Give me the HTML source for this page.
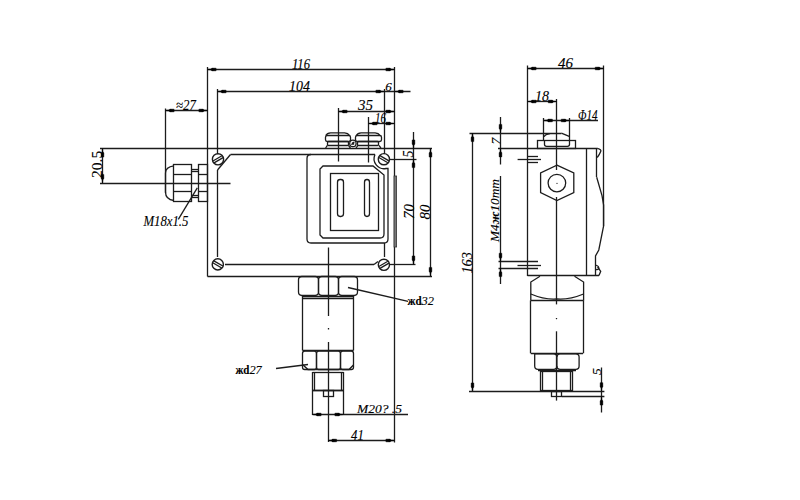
<!DOCTYPE html>
<html><head><meta charset="utf-8"><style>
html,body{margin:0;padding:0;background:#fff;}
svg{display:block;}
</style></head><body>
<svg width="800" height="500" viewBox="0 0 800 500">
<rect width="800" height="500" fill="#fff"/>
<line x1="207.5" y1="67" x2="207.5" y2="276.5" stroke="#1c1c1c" stroke-width="1.30"/>
<line x1="394.5" y1="67" x2="394.5" y2="442.5" stroke="#1c1c1c" stroke-width="1.30"/>
<line x1="100" y1="148.5" x2="432" y2="148.5" stroke="#1c1c1c" stroke-width="1.30"/>
<line x1="207.5" y1="276.5" x2="432" y2="276.5" stroke="#1c1c1c" stroke-width="1.30"/>
<line x1="207.5" y1="69.5" x2="394.5" y2="69.5" stroke="#1c1c1c" stroke-width="1.30"/>
<polygon points="207.50,69.50 211.11,68.95 211.80,68.10 216.10,68.17 216.10,70.83 211.80,70.90 211.11,70.05" fill="#000" stroke="#000" stroke-width="0.4"/>
<polygon points="394.50,69.50 390.89,70.05 390.20,70.90 385.90,70.83 385.90,68.17 390.20,68.10 390.89,68.95" fill="#000" stroke="#000" stroke-width="0.4"/>
<line x1="217.5" y1="89" x2="217.5" y2="154" stroke="#1c1c1c" stroke-width="1.30"/>
<line x1="384.5" y1="89" x2="384.5" y2="154" stroke="#1c1c1c" stroke-width="1.30"/>
<line x1="217.5" y1="91.5" x2="410.5" y2="91.5" stroke="#1c1c1c" stroke-width="1.30"/>
<polygon points="217.50,91.50 221.11,90.95 221.80,90.10 226.10,90.17 226.10,92.83 221.80,92.90 221.11,92.05" fill="#000" stroke="#000" stroke-width="0.4"/>
<polygon points="384.50,91.50 380.89,92.05 380.20,92.90 375.90,92.83 375.90,90.17 380.20,90.10 380.89,90.95" fill="#000" stroke="#000" stroke-width="0.4"/>
<polygon points="394.50,91.50 398.11,90.95 398.80,90.10 403.10,90.17 403.10,92.83 398.80,92.90 398.11,92.05" fill="#000" stroke="#000" stroke-width="0.4"/>
<line x1="338.5" y1="108" x2="338.5" y2="161.5" stroke="#1c1c1c" stroke-width="1.30"/>
<line x1="338.5" y1="111.5" x2="394.5" y2="111.5" stroke="#1c1c1c" stroke-width="1.30"/>
<polygon points="338.50,111.50 342.11,110.95 342.80,110.10 347.10,110.17 347.10,112.83 342.80,112.90 342.11,112.05" fill="#000" stroke="#000" stroke-width="0.4"/>
<polygon points="394.50,111.50 390.89,112.05 390.20,112.90 385.90,112.83 385.90,110.17 390.20,110.10 390.89,110.95" fill="#000" stroke="#000" stroke-width="0.4"/>
<line x1="368.5" y1="117" x2="368.5" y2="162.5" stroke="#1c1c1c" stroke-width="1.30"/>
<line x1="368.5" y1="123.5" x2="394.5" y2="123.5" stroke="#1c1c1c" stroke-width="1.30"/>
<polygon points="368.50,123.50 372.11,122.95 372.80,122.10 377.10,122.17 377.10,124.83 372.80,124.90 372.11,124.05" fill="#000" stroke="#000" stroke-width="0.4"/>
<polygon points="394.50,123.50 390.89,124.05 390.20,124.90 385.90,124.83 385.90,122.17 390.20,122.10 390.89,122.95" fill="#000" stroke="#000" stroke-width="0.4"/>
<line x1="165.5" y1="108.5" x2="165.5" y2="193" stroke="#1c1c1c" stroke-width="1.30"/>
<line x1="165.5" y1="110.5" x2="207.5" y2="110.5" stroke="#1c1c1c" stroke-width="1.30"/>
<polygon points="165.50,110.50 169.11,109.95 169.80,109.10 174.10,109.17 174.10,111.83 169.80,111.90 169.11,111.05" fill="#000" stroke="#000" stroke-width="0.4"/>
<polygon points="207.50,110.50 203.89,111.05 203.20,111.90 198.90,111.83 198.90,109.17 203.20,109.10 203.89,109.95" fill="#000" stroke="#000" stroke-width="0.4"/>
<line x1="102.5" y1="148.5" x2="102.5" y2="183" stroke="#1c1c1c" stroke-width="1.30"/>
<line x1="100" y1="183.5" x2="230.5" y2="183.5" stroke="#1c1c1c" stroke-width="1.30"/>
<polygon points="102.50,148.50 103.05,152.11 103.90,152.80 103.83,157.10 101.17,157.10 101.10,152.80 101.95,152.11" fill="#000" stroke="#000" stroke-width="0.4"/>
<polygon points="102.50,183.00 101.95,179.39 101.10,178.70 101.17,174.40 103.83,174.40 103.90,178.70 103.05,179.39" fill="#000" stroke="#000" stroke-width="0.4"/>
<line x1="413.5" y1="132" x2="413.5" y2="264.5" stroke="#1c1c1c" stroke-width="1.30"/>
<line x1="389" y1="159.5" x2="416.5" y2="159.5" stroke="#1c1c1c" stroke-width="1.30"/>
<line x1="389" y1="264.5" x2="415.5" y2="264.5" stroke="#1c1c1c" stroke-width="1.30"/>
<polygon points="413.50,148.50 412.95,144.89 412.10,144.20 412.17,139.90 414.83,139.90 414.90,144.20 414.05,144.89" fill="#000" stroke="#000" stroke-width="0.4"/>
<polygon points="413.50,159.00 414.05,162.61 414.90,163.30 414.83,167.60 412.17,167.60 412.10,163.30 412.95,162.61" fill="#000" stroke="#000" stroke-width="0.4"/>
<polygon points="413.50,264.50 412.95,260.89 412.10,260.20 412.17,255.90 414.83,255.90 414.90,260.20 414.05,260.89" fill="#000" stroke="#000" stroke-width="0.4"/>
<line x1="430.5" y1="148.5" x2="430.5" y2="276" stroke="#1c1c1c" stroke-width="1.30"/>
<polygon points="430.50,148.50 431.05,152.11 431.90,152.80 431.83,157.10 429.17,157.10 429.10,152.80 429.95,152.11" fill="#000" stroke="#000" stroke-width="0.4"/>
<polygon points="430.50,276.00 429.95,272.39 429.10,271.70 429.17,267.40 431.83,267.40 431.90,271.70 431.05,272.39" fill="#000" stroke="#000" stroke-width="0.4"/>
<line x1="230.5" y1="154.5" x2="375" y2="154.5" stroke="#1c1c1c" stroke-width="1.30"/>
<line x1="230.5" y1="154.5" x2="217.5" y2="170" stroke="#1c1c1c" stroke-width="1.30"/>
<line x1="217.5" y1="170" x2="217.5" y2="257" stroke="#1c1c1c" stroke-width="1.30"/>
<line x1="225" y1="264.5" x2="374" y2="264.5" stroke="#1c1c1c" stroke-width="1.30"/>
<line x1="374" y1="264.5" x2="378" y2="261.5" stroke="#1c1c1c" stroke-width="1.30"/>
<line x1="384.5" y1="243" x2="384.5" y2="257" stroke="#1c1c1c" stroke-width="1.30"/>
<path d="M375,154.5 A10,10 0 0 0 386,168.5 L388,168.5 L388,239 Q388,243 384,243 L311,243 Q307,243 307,239 L307,158.5 Q307,154.5 311,154.5" stroke="#1c1c1c" stroke-width="1.30" fill="none"/>
<path d="M323,166 L373,166 L384,175 L384,234 Q384,238 380,238 L323,238 L320,235 L320,169 Z" stroke="#1c1c1c" stroke-width="1.30" fill="none"/>
<rect x="330.5" y="173.5" width="48.0" height="57.0" rx="0" stroke="#1c1c1c" stroke-width="1.30" fill="none"/>
<rect x="337.5" y="179.5" width="6.0" height="37.0" rx="2.65" stroke="#1c1c1c" stroke-width="1.30" fill="none"/>
<rect x="364.5" y="179.5" width="5.0" height="37.0" rx="2.65" stroke="#1c1c1c" stroke-width="1.30" fill="none"/>
<rect x="394" y="176" width="2.6" height="71" fill="#777" stroke="#333" stroke-width="0.8"/>
<circle cx="218.0" cy="159.3" r="5.6" stroke="#1c1c1c" stroke-width="1.43" fill="none"/>
<line x1="212.95" y1="160.94" x2="221.95" y2="155.75" stroke="#1c1c1c" stroke-width="1.30"/>
<line x1="214.05" y1="162.85" x2="223.05" y2="157.66" stroke="#1c1c1c" stroke-width="1.30"/>
<circle cx="383.9" cy="159.2" r="5.6" stroke="#1c1c1c" stroke-width="1.43" fill="none"/>
<line x1="379.95" y1="155.65" x2="388.95" y2="160.84" stroke="#1c1c1c" stroke-width="1.30"/>
<line x1="378.85" y1="157.56" x2="387.85" y2="162.75" stroke="#1c1c1c" stroke-width="1.30"/>
<circle cx="217.8" cy="264.4" r="5.6" stroke="#1c1c1c" stroke-width="1.43" fill="none"/>
<line x1="213.85" y1="260.85" x2="222.85" y2="266.04" stroke="#1c1c1c" stroke-width="1.30"/>
<line x1="212.75" y1="262.76" x2="221.75" y2="267.95" stroke="#1c1c1c" stroke-width="1.30"/>
<circle cx="383.9" cy="264.8" r="5.6" stroke="#1c1c1c" stroke-width="1.43" fill="none"/>
<line x1="378.85" y1="266.44" x2="387.85" y2="261.25" stroke="#1c1c1c" stroke-width="1.30"/>
<line x1="379.95" y1="268.35" x2="388.95" y2="263.16" stroke="#1c1c1c" stroke-width="1.30"/>
<path d="M325.90000000000003,135.4 Q327.1,133 330.6,132.8 L344.6,132.8 Q348.1,133 349.40000000000003,135.4" stroke="#1c1c1c" stroke-width="1.30" fill="none"/>
<rect x="325.5" y="135.5" width="25.0" height="6.0" rx="1.8" stroke="#1c1c1c" stroke-width="1.30" fill="none"/>
<rect x="327.5" y="141.5" width="21.0" height="4.0" rx="1" stroke="#1c1c1c" stroke-width="1.30" fill="none"/>
<line x1="327.40000000000003" y1="145.3" x2="325.6" y2="148" stroke="#1c1c1c" stroke-width="1.30"/>
<line x1="348.40000000000003" y1="145.3" x2="350.40000000000003" y2="148" stroke="#1c1c1c" stroke-width="1.30"/>
<path d="M356.40000000000003,135.4 Q357.6,133 361.1,132.8 L375.1,132.8 Q378.6,133 379.90000000000003,135.4" stroke="#1c1c1c" stroke-width="1.30" fill="none"/>
<rect x="355.5" y="135.5" width="26.0" height="6.0" rx="1.8" stroke="#1c1c1c" stroke-width="1.30" fill="none"/>
<rect x="357.5" y="141.5" width="21.0" height="4.0" rx="1" stroke="#1c1c1c" stroke-width="1.30" fill="none"/>
<line x1="357.90000000000003" y1="145.3" x2="356.1" y2="148" stroke="#1c1c1c" stroke-width="1.30"/>
<line x1="378.90000000000003" y1="145.3" x2="380.90000000000003" y2="148" stroke="#1c1c1c" stroke-width="1.30"/>
<circle cx="352.9" cy="143.4" r="3.2" stroke="#1c1c1c" stroke-width="1.30" fill="none"/>
<path d="M351.5,144.8 L354.2,142 M352.2,142.5 L354,144.5" stroke="#1c1c1c" stroke-width="1.56" fill="none"/>
<path d="M173.9,165.9 Q165.5,167 165.5,173 L165.5,192 Q165.5,199.5 173.9,200.5" stroke="#1c1c1c" stroke-width="1.30" fill="none"/>
<rect x="173.5" y="164.5" width="18.0" height="37.0" rx="0" stroke="#1c1c1c" stroke-width="1.30" fill="none"/>
<line x1="173.9" y1="174.5" x2="191.5" y2="174.5" stroke="#1c1c1c" stroke-width="1.30"/>
<line x1="173.9" y1="191.5" x2="191.5" y2="191.5" stroke="#1c1c1c" stroke-width="1.30"/>
<line x1="191.5" y1="169.5" x2="198.2" y2="169.5" stroke="#1c1c1c" stroke-width="1.30"/>
<line x1="191.5" y1="171.5" x2="198.2" y2="171.5" stroke="#1c1c1c" stroke-width="1.30"/>
<line x1="191.5" y1="195.5" x2="198.2" y2="195.5" stroke="#1c1c1c" stroke-width="1.30"/>
<line x1="191.5" y1="197.5" x2="198.2" y2="197.5" stroke="#1c1c1c" stroke-width="1.30"/>
<rect x="198.5" y="164.5" width="9.0" height="37.0" rx="0" stroke="#1c1c1c" stroke-width="1.30" fill="none"/>
<line x1="198.2" y1="174.5" x2="207.5" y2="174.5" stroke="#1c1c1c" stroke-width="1.30"/>
<line x1="198.2" y1="191.5" x2="207.5" y2="191.5" stroke="#1c1c1c" stroke-width="1.30"/>
<line x1="197.3" y1="187.9" x2="178.3" y2="219.3" stroke="#1c1c1c" stroke-width="1.30"/>
<path d="M298.5,279.9 Q298.5,276.5 301.9,276.5 L315.1,276.5 Q318.5,276.5 318.5,279.9 L318.5,292.1 Q318.5,295.5 315.1,295.5 L301.9,295.5 Q298.5,295.5 298.5,292.1 Z" stroke="#1c1c1c" stroke-width="1.30" fill="none"/>
<path d="M318.5,279.9 Q318.5,276.5 321.9,276.5 L335.1,276.5 Q338.5,276.5 338.5,279.9 L338.5,292.1 Q338.5,295.5 335.1,295.5 L321.9,295.5 Q318.5,295.5 318.5,292.1 Z" stroke="#1c1c1c" stroke-width="1.30" fill="none"/>
<path d="M338.5,279.9 Q338.5,276.5 341.9,276.5 L354.1,276.5 Q357.5,276.5 357.5,279.9 L357.5,292.1 Q357.5,295.5 354.1,295.5 L341.9,295.5 Q338.5,295.5 338.5,292.1 Z" stroke="#1c1c1c" stroke-width="1.30" fill="none"/>
<line x1="302.5" y1="296.5" x2="353.5" y2="296.5" stroke="#1c1c1c" stroke-width="1.30"/>
<line x1="302.5" y1="298.5" x2="353.5" y2="298.5" stroke="#1c1c1c" stroke-width="1.30"/>
<line x1="302.5" y1="296" x2="302.5" y2="350.5" stroke="#1c1c1c" stroke-width="1.30"/>
<line x1="353.5" y1="296" x2="353.5" y2="350.5" stroke="#1c1c1c" stroke-width="1.30"/>
<line x1="302.5" y1="350.5" x2="353.5" y2="350.5" stroke="#1c1c1c" stroke-width="1.30"/>
<path d="M302.5,353.4 Q302.5,351.2 304.7,351.2 L314.3,351.2 Q316.5,351.2 316.5,353.4 L316.5,367.3 Q316.5,369.5 314.3,369.5 L304.7,369.5 Q302.5,369.5 302.5,367.3 Z" stroke="#1c1c1c" stroke-width="1.30" fill="none"/>
<path d="M316.5,353.4 Q316.5,351.2 318.7,351.2 L338.3,351.2 Q340.5,351.2 340.5,353.4 L340.5,367.3 Q340.5,369.5 338.3,369.5 L318.7,369.5 Q316.5,369.5 316.5,367.3 Z" stroke="#1c1c1c" stroke-width="1.30" fill="none"/>
<path d="M340.5,353.4 Q340.5,351.2 342.7,351.2 L351.3,351.2 Q353.5,351.2 353.5,353.4 L353.5,367.3 Q353.5,369.5 351.3,369.5 L342.7,369.5 Q340.5,369.5 340.5,367.3 Z" stroke="#1c1c1c" stroke-width="1.30" fill="none"/>
<path d="M302.5,364.5 L308,369.5 L349,369.5 L353.5,365" stroke="#1c1c1c" stroke-width="1.43" fill="none"/>
<line x1="312.5" y1="372.5" x2="343.5" y2="372.5" stroke="#1c1c1c" stroke-width="1.30"/>
<line x1="312.5" y1="372" x2="312.5" y2="415" stroke="#1c1c1c" stroke-width="1.30"/>
<line x1="314.5" y1="372.5" x2="314.5" y2="390.5" stroke="#1c1c1c" stroke-width="1.30"/>
<line x1="343.5" y1="372" x2="343.5" y2="415" stroke="#1c1c1c" stroke-width="1.30"/>
<line x1="341.5" y1="372.5" x2="341.5" y2="390.5" stroke="#1c1c1c" stroke-width="1.30"/>
<line x1="312.5" y1="390.5" x2="343.5" y2="390.5" stroke="#1c1c1c" stroke-width="1.82"/>
<rect x="323.5" y="390.5" width="10.0" height="6.0" rx="0" stroke="#1c1c1c" stroke-width="1.30" fill="none"/>
<line x1="328.5" y1="247.5" x2="328.5" y2="316" stroke="#1c1c1c" stroke-width="1.30"/>
<line x1="328.5" y1="328" x2="328.5" y2="329.5" stroke="#1c1c1c" stroke-width="1.30"/>
<line x1="328.5" y1="342" x2="328.5" y2="442" stroke="#1c1c1c" stroke-width="1.30"/>
<line x1="348" y1="287.5" x2="408" y2="301.3" stroke="#1c1c1c" stroke-width="1.30"/>
<line x1="276" y1="368.5" x2="308" y2="364.5" stroke="#1c1c1c" stroke-width="1.30"/>
<line x1="312.5" y1="414.5" x2="408" y2="414.5" stroke="#1c1c1c" stroke-width="1.30"/>
<polygon points="312.50,414.50 316.11,413.95 316.80,413.10 321.10,413.17 321.10,415.83 316.80,415.90 316.11,415.05" fill="#000" stroke="#000" stroke-width="0.4"/>
<polygon points="343.50,414.50 339.89,415.05 339.20,415.90 334.90,415.83 334.90,413.17 339.20,413.10 339.89,413.95" fill="#000" stroke="#000" stroke-width="0.4"/>
<line x1="328" y1="440.5" x2="394.5" y2="440.5" stroke="#1c1c1c" stroke-width="1.30"/>
<polygon points="328.00,440.50 331.61,439.95 332.30,439.10 336.60,439.17 336.60,441.83 332.30,441.90 331.61,441.05" fill="#000" stroke="#000" stroke-width="0.4"/>
<polygon points="394.50,440.50 390.89,441.05 390.20,441.90 385.90,441.83 385.90,439.17 390.20,439.10 390.89,439.95" fill="#000" stroke="#000" stroke-width="0.4"/>
<line x1="527.5" y1="65.5" x2="527.5" y2="276" stroke="#1c1c1c" stroke-width="1.30"/>
<line x1="603.5" y1="65.5" x2="603.5" y2="226" stroke="#1c1c1c" stroke-width="1.30"/>
<line x1="527.5" y1="68.5" x2="603.8" y2="68.5" stroke="#1c1c1c" stroke-width="1.30"/>
<polygon points="527.50,68.50 531.11,67.95 531.80,67.10 536.10,67.17 536.10,69.83 531.80,69.90 531.11,69.05" fill="#000" stroke="#000" stroke-width="0.4"/>
<polygon points="603.80,68.50 600.19,69.05 599.50,69.90 595.20,69.83 595.20,67.17 599.50,67.10 600.19,67.95" fill="#000" stroke="#000" stroke-width="0.4"/>
<line x1="556.5" y1="99" x2="556.5" y2="170" stroke="#1c1c1c" stroke-width="1.30"/>
<line x1="527.5" y1="101.5" x2="556.8" y2="101.5" stroke="#1c1c1c" stroke-width="1.30"/>
<polygon points="527.50,101.50 531.11,100.95 531.80,100.10 536.10,100.17 536.10,102.83 531.80,102.90 531.11,102.05" fill="#000" stroke="#000" stroke-width="0.4"/>
<polygon points="556.80,101.50 553.19,102.05 552.50,102.90 548.20,102.83 548.20,100.17 552.50,100.10 553.19,100.95" fill="#000" stroke="#000" stroke-width="0.4"/>
<line x1="543.5" y1="118" x2="543.5" y2="140" stroke="#1c1c1c" stroke-width="1.30"/>
<line x1="569.5" y1="118" x2="569.5" y2="140" stroke="#1c1c1c" stroke-width="1.30"/>
<line x1="543.8" y1="120.5" x2="598" y2="120.5" stroke="#1c1c1c" stroke-width="1.30"/>
<polygon points="543.80,120.50 547.41,119.95 548.10,119.10 552.40,119.17 552.40,121.83 548.10,121.90 547.41,121.05" fill="#000" stroke="#000" stroke-width="0.4"/>
<polygon points="569.80,120.50 566.19,121.05 565.50,121.90 561.20,121.83 561.20,119.17 565.50,119.10 566.19,119.95" fill="#000" stroke="#000" stroke-width="0.4"/>
<line x1="469.5" y1="133.5" x2="561.4" y2="133.5" stroke="#1c1c1c" stroke-width="1.30"/>
<line x1="561.4" y1="133.2" x2="569.2" y2="136.3" stroke="#1c1c1c" stroke-width="1.30"/>
<path d="M544.2,136.8 Q545,134.2 550,133.6" stroke="#1c1c1c" stroke-width="1.30" fill="none"/>
<rect x="537.5" y="140.5" width="38.0" height="8.0" rx="0" stroke="#1c1c1c" stroke-width="1.30" fill="none"/>
<path d="M544.5,140.5 L544.5,144.5 Q544.5,146.3 546.5,146.3 L567.5,146.3 Q569.5,146.3 569.5,144.5 L569.5,140.5" stroke="#1c1c1c" stroke-width="1.30" fill="none"/>
<line x1="498" y1="148.5" x2="597.5" y2="148.5" stroke="#1c1c1c" stroke-width="1.30"/>
<line x1="527.5" y1="275.5" x2="599" y2="275.5" stroke="#1c1c1c" stroke-width="1.30"/>
<line x1="586.5" y1="148.3" x2="586.5" y2="275.7" stroke="#1c1c1c" stroke-width="1.30"/>
<line x1="596.5" y1="148.3" x2="596.5" y2="177.2" stroke="#1c1c1c" stroke-width="1.30"/>
<path d="M597.3,148.3 Q601.8,149.5 600.7,151.6 Q599.6,154.5 597.2,157.5" stroke="#1c1c1c" stroke-width="1.30" fill="none"/>
<path d="M596.7,177.2 L602,195.6 L603.6,205 L603.6,226 L598.8,250 L595.5,256 L595.5,275.5" stroke="#1c1c1c" stroke-width="1.30" fill="none"/>
<path d="M595.6,265 Q599,266 598.8,268.3 Q597.8,270 596,269.4" stroke="#1c1c1c" stroke-width="1.30" fill="none"/>
<path d="M597.6,266.8 L600.7,271.3 L599,275.5" stroke="#1c1c1c" stroke-width="1.30" fill="none"/>
<path d="M556.9,165.1 L573.8,173 L573.8,192.6 L556.9,200.5 L540.6,192.6 L540.6,173 Z" stroke="#1c1c1c" stroke-width="1.30" fill="none"/>
<circle cx="556.9" cy="183.1" r="8.8" stroke="#1c1c1c" stroke-width="1.30" fill="none"/>
<line x1="527.5" y1="156.5" x2="538" y2="156.5" stroke="#1c1c1c" stroke-width="1.30"/>
<line x1="517.6" y1="159.5" x2="541" y2="159.5" stroke="#1c1c1c" stroke-width="1.30"/>
<line x1="527.5" y1="162.5" x2="538" y2="162.5" stroke="#1c1c1c" stroke-width="1.30"/>
<line x1="498.5" y1="261.5" x2="538" y2="261.5" stroke="#1c1c1c" stroke-width="1.30"/>
<line x1="517.5" y1="265.5" x2="541" y2="265.5" stroke="#1c1c1c" stroke-width="1.30"/>
<line x1="498.5" y1="268.5" x2="538" y2="268.5" stroke="#1c1c1c" stroke-width="1.30"/>
<line x1="500.5" y1="117" x2="500.5" y2="164.5" stroke="#1c1c1c" stroke-width="1.30"/>
<polygon points="500.50,133.00 499.95,129.39 499.10,128.70 499.17,124.40 501.83,124.40 501.90,128.70 501.05,129.39" fill="#000" stroke="#000" stroke-width="0.4"/>
<polygon points="500.50,148.30 501.05,151.91 501.90,152.60 501.83,156.90 499.17,156.90 499.10,152.60 499.95,151.91" fill="#000" stroke="#000" stroke-width="0.4"/>
<line x1="500.5" y1="176" x2="500.5" y2="284" stroke="#1c1c1c" stroke-width="1.30"/>
<polygon points="500.50,261.80 499.95,258.19 499.10,257.50 499.17,253.20 501.83,253.20 501.90,257.50 501.05,258.19" fill="#000" stroke="#000" stroke-width="0.4"/>
<polygon points="500.50,268.00 501.05,271.61 501.90,272.30 501.83,276.60 499.17,276.60 499.10,272.30 499.95,271.61" fill="#000" stroke="#000" stroke-width="0.4"/>
<line x1="472.5" y1="133" x2="472.5" y2="391.5" stroke="#1c1c1c" stroke-width="1.30"/>
<polygon points="472.50,133.00 473.05,136.61 473.90,137.30 473.83,141.60 471.17,141.60 471.10,137.30 471.95,136.61" fill="#000" stroke="#000" stroke-width="0.4"/>
<polygon points="472.50,391.50 471.95,387.89 471.10,387.20 471.17,382.90 473.83,382.90 473.90,387.20 473.05,387.89" fill="#000" stroke="#000" stroke-width="0.4"/>
<path d="M530.8,300.4 L530.8,282 L540,276.2 M574.5,276.2 L583.6,282 L583.6,300.4" stroke="#1c1c1c" stroke-width="1.30" fill="none"/>
<path d="M530.8,294 Q545,300 556.9,299 Q569,300 583.6,294" stroke="#1c1c1c" stroke-width="1.30" fill="none"/>
<line x1="530.8" y1="300.5" x2="583.6" y2="300.5" stroke="#1c1c1c" stroke-width="1.30"/>
<line x1="530.5" y1="300.4" x2="530.5" y2="353.3" stroke="#1c1c1c" stroke-width="1.30"/>
<line x1="583.5" y1="300.4" x2="583.5" y2="353.3" stroke="#1c1c1c" stroke-width="1.30"/>
<line x1="530.8" y1="353.5" x2="583" y2="353.5" stroke="#1c1c1c" stroke-width="1.30"/>
<path d="M534.7,353.8 L534.7,366 Q534.7,369.4 538,369.4 L553.5,369.4 Q556.9,369.4 556.9,366 L556.9,357 Q556.9,353.8 553.5,353.8 Z" stroke="#1c1c1c" stroke-width="1.30" fill="none"/>
<path d="M556.9,357 Q556.9,353.8 560.3,353.8 L575.8,353.8 Q579.1,353.8 579.1,357 L579.1,366 Q579.1,369.4 575.8,369.4 L560.3,369.4 Q556.9,369.4 556.9,366" stroke="#1c1c1c" stroke-width="1.30" fill="none"/>
<rect x="540.5" y="371.5" width="32.0" height="19.0" rx="0" stroke="#1c1c1c" stroke-width="1.30" fill="none"/>
<line x1="542.5" y1="371.9" x2="542.5" y2="390.6" stroke="#1c1c1c" stroke-width="1.30"/>
<line x1="570.5" y1="371.9" x2="570.5" y2="390.6" stroke="#1c1c1c" stroke-width="1.30"/>
<line x1="538" y1="370.5" x2="576" y2="370.5" stroke="#1c1c1c" stroke-width="1.30"/>
<rect x="551.5" y="391.5" width="10.0" height="5.0" rx="0" stroke="#1c1c1c" stroke-width="1.30" fill="none"/>
<line x1="556.5" y1="197" x2="556.5" y2="304.4" stroke="#1c1c1c" stroke-width="1.30"/>
<circle cx="557" cy="183.3" r="0.6" fill="#000"/>
<line x1="556.5" y1="318" x2="556.5" y2="319.2" stroke="#1c1c1c" stroke-width="1.30"/>
<line x1="556.5" y1="331.3" x2="556.5" y2="400.6" stroke="#1c1c1c" stroke-width="1.30"/>
<line x1="469" y1="391.5" x2="604.4" y2="391.5" stroke="#1c1c1c" stroke-width="1.30"/>
<line x1="561.9" y1="396.5" x2="604.4" y2="396.5" stroke="#1c1c1c" stroke-width="1.30"/>
<line x1="601.5" y1="367.5" x2="601.5" y2="412.5" stroke="#1c1c1c" stroke-width="1.30"/>
<polygon points="601.50,391.25 600.95,387.64 600.10,386.95 600.17,382.65 602.83,382.65 602.90,386.95 602.05,387.64" fill="#000" stroke="#000" stroke-width="0.4"/>
<polygon points="601.50,396.50 602.05,400.11 602.90,400.80 602.83,405.10 600.17,405.10 600.10,400.80 600.95,400.11" fill="#000" stroke="#000" stroke-width="0.4"/>
<text x="292" y="69" font-family="Liberation Serif" font-style="italic" font-weight="normal" font-size="14.5" text-anchor="start" stroke="#000" stroke-width="0.12" textLength="18" lengthAdjust="spacingAndGlyphs">116</text>
<text x="289" y="91" font-family="Liberation Serif" font-style="italic" font-weight="normal" font-size="14.5" text-anchor="start" stroke="#000" stroke-width="0.12" textLength="21" lengthAdjust="spacingAndGlyphs">104</text>
<text x="385.3" y="90.6" font-family="Liberation Serif" font-style="italic" font-weight="normal" font-size="13" text-anchor="start" stroke="#000" stroke-width="0.12">6</text>
<text x="358" y="110.3" font-family="Liberation Serif" font-style="italic" font-weight="normal" font-size="14.5" text-anchor="start" stroke="#000" stroke-width="0.12" textLength="15" lengthAdjust="spacingAndGlyphs">35</text>
<text x="375" y="123.3" font-family="Liberation Serif" font-style="italic" font-weight="normal" font-size="14.5" text-anchor="start" stroke="#000" stroke-width="0.12" textLength="11" lengthAdjust="spacingAndGlyphs">16</text>
<text x="176" y="110.3" font-family="Liberation Serif" font-style="italic" font-weight="normal" font-size="14.5" text-anchor="start" stroke="#000" stroke-width="0.12" textLength="20" lengthAdjust="spacingAndGlyphs">&#8776;27</text>
<text x="102" y="177.9" font-family="Liberation Serif" font-style="normal" font-weight="normal" font-size="14.5" text-anchor="start" stroke="#000" stroke-width="0.12" transform="rotate(-90 102 177.9)" textLength="27" lengthAdjust="spacingAndGlyphs">20.5</text>
<text x="143.4" y="225.6" font-family="Liberation Serif" font-style="italic" font-weight="normal" font-size="14.5" text-anchor="start" stroke="#000" stroke-width="0.12" textLength="45" lengthAdjust="spacingAndGlyphs">M18x1.5</text>
<text x="413.3" y="157.6" font-family="Liberation Serif" font-style="italic" font-weight="normal" font-size="14" text-anchor="start" stroke="#000" stroke-width="0.12" transform="rotate(-90 413.3 157.6)">5</text>
<text x="413.5" y="219" font-family="Liberation Serif" font-style="italic" font-weight="normal" font-size="14.5" text-anchor="start" stroke="#000" stroke-width="0.12" transform="rotate(-90 413.5 219)" textLength="15" lengthAdjust="spacingAndGlyphs">70</text>
<text x="430" y="219.5" font-family="Liberation Serif" font-style="italic" font-weight="normal" font-size="14.5" text-anchor="start" stroke="#000" stroke-width="0.12" transform="rotate(-90 430 219.5)" textLength="15" lengthAdjust="spacingAndGlyphs">80</text>
<text x="407.5" y="305.4" font-family="Liberation Serif" font-style="italic" font-weight="normal" font-size="13.5" text-anchor="start" stroke="#000" stroke-width="0.12" textLength="26.5" lengthAdjust="spacingAndGlyphs"><tspan font-weight="bold" font-style="normal" font-size="12">&#1078;d</tspan>32</text>
<text x="235.4" y="373.8" font-family="Liberation Serif" font-style="italic" font-weight="normal" font-size="13.5" text-anchor="start" stroke="#000" stroke-width="0.12" textLength="26.4" lengthAdjust="spacingAndGlyphs"><tspan font-weight="bold" font-style="normal" font-size="12">&#1078;d</tspan>27</text>
<text x="357" y="412.6" font-family="Liberation Serif" font-style="italic" font-weight="normal" font-size="12.5" text-anchor="start" stroke="#000" stroke-width="0.12" textLength="45" lengthAdjust="spacingAndGlyphs">M20? .5</text>
<text x="351" y="440" font-family="Liberation Serif" font-style="italic" font-weight="normal" font-size="14.5" text-anchor="start" stroke="#000" stroke-width="0.12" textLength="12.75" lengthAdjust="spacingAndGlyphs">41</text>
<text x="558" y="68" font-family="Liberation Serif" font-style="italic" font-weight="normal" font-size="14.5" text-anchor="start" stroke="#000" stroke-width="0.12" textLength="15" lengthAdjust="spacingAndGlyphs">46</text>
<text x="535" y="101" font-family="Liberation Serif" font-style="italic" font-weight="normal" font-size="14.5" text-anchor="start" stroke="#000" stroke-width="0.12" textLength="14" lengthAdjust="spacingAndGlyphs">18</text>
<text x="578" y="119.6" font-family="Liberation Serif" font-style="italic" font-weight="normal" font-size="14.5" text-anchor="start" stroke="#000" stroke-width="0.12" textLength="19.6" lengthAdjust="spacingAndGlyphs">&#934;14</text>
<text x="500" y="144.6" font-family="Liberation Serif" font-style="italic" font-weight="normal" font-size="13.5" text-anchor="start" stroke="#000" stroke-width="0.12" transform="rotate(-90 500 144.6)">7</text>
<text x="498.5" y="242" font-family="Liberation Serif" font-style="italic" font-weight="normal" font-size="13.5" text-anchor="start" stroke="#000" stroke-width="0.12" transform="rotate(-90 498.5 242)" textLength="63" lengthAdjust="spacingAndGlyphs">M4<tspan font-weight="bold">&#1078;</tspan>10mm</text>
<text x="472" y="273.6" font-family="Liberation Serif" font-style="italic" font-weight="normal" font-size="14.5" text-anchor="start" stroke="#000" stroke-width="0.12" transform="rotate(-90 472 273.6)" textLength="21.6" lengthAdjust="spacingAndGlyphs">163</text>
<text x="601.2" y="375" font-family="Liberation Serif" font-style="italic" font-weight="normal" font-size="13.5" text-anchor="start" stroke="#000" stroke-width="0.12" transform="rotate(-90 601.2 375)">5</text>
</svg>
</body></html>
